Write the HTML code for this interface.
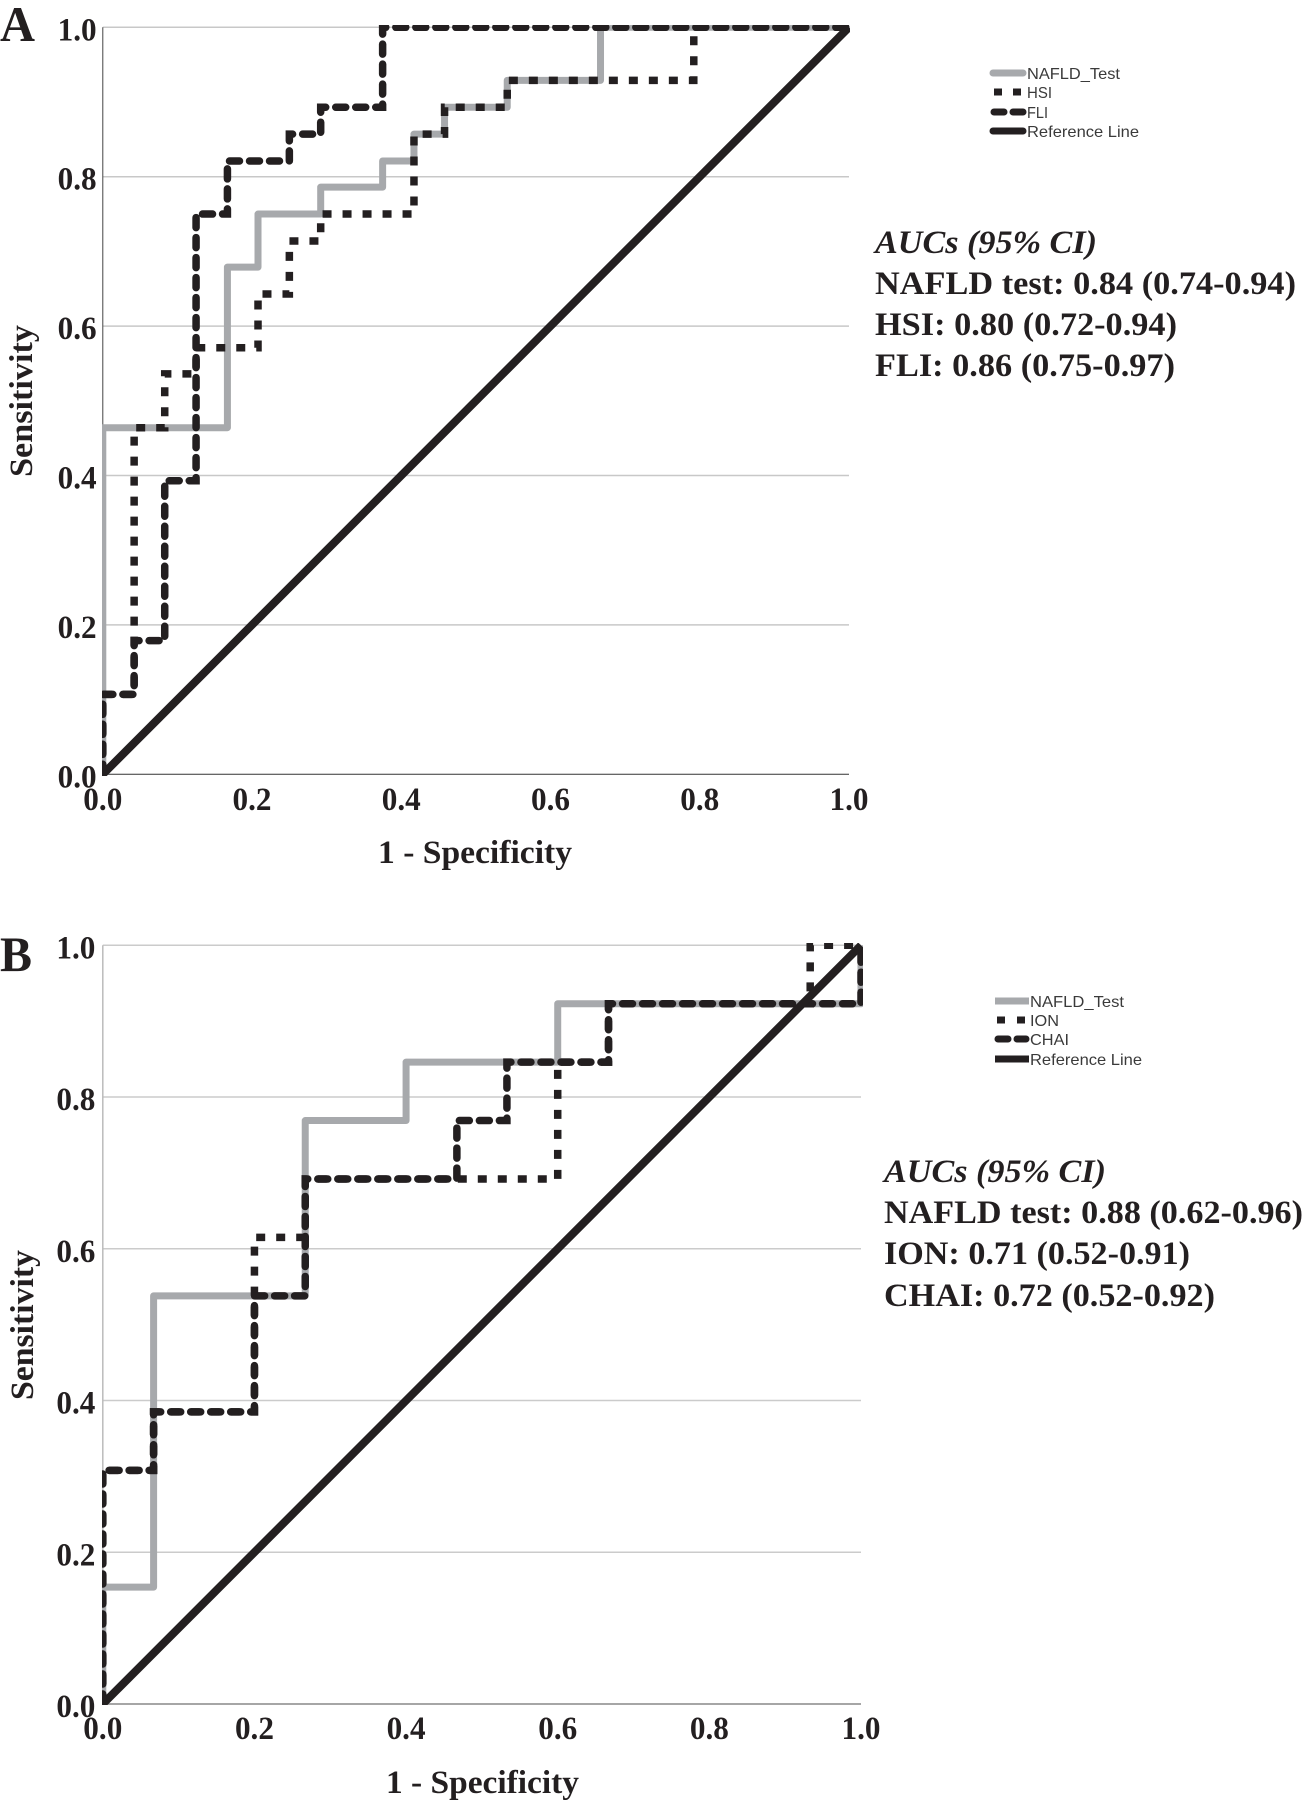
<!DOCTYPE html>
<html lang="en">
<head>
<meta charset="utf-8">
<title>ROC curves for NAFLD test and comparators</title>
<style>
html,body{margin:0;padding:0;background:#fff;}
svg{display:block;}
.tick{font:bold 33px "Liberation Serif",serif;fill:#231f20;}
.title{font:bold 33px "Liberation Serif",serif;fill:#231f20;}
.panel{font:bold 50px "Liberation Serif",serif;fill:#231f20;}
.auc{font:bold 33px "Liberation Serif",serif;fill:#231f20;}
.auch{font:italic bold 33px "Liberation Serif",serif;fill:#231f20;}
.leg{font:16px "Liberation Sans",sans-serif;fill:#3a3a3a;}
</style>
</head>
<body>
<svg id="figure" xmlns="http://www.w3.org/2000/svg" width="1303" height="1802" viewBox="0 0 1303 1802">
  <rect width="1303" height="1802" fill="#fff"/>
  <defs>
    <clipPath id="clipA"><rect x="102" y="25" width="748" height="751"/></clipPath>
    <clipPath id="clipB"><rect x="102" y="943" width="761" height="762"/></clipPath>
  </defs>

  <text class="panel" x="0" y="41" textLength="35" lengthAdjust="spacingAndGlyphs">A</text>
  <text class="panel" x="0" y="971" textLength="32" lengthAdjust="spacingAndGlyphs">B</text>

  <g id="panelA"></g>
  <g id="panelB"></g>

  <text class="title" x="378" y="863" textLength="194" lengthAdjust="spacingAndGlyphs">1 - Specificity</text>
  <text class="title" x="386" y="1793" textLength="193" lengthAdjust="spacingAndGlyphs">1 - Specificity</text>
  <text class="title" transform="translate(32,477) rotate(-90)" textLength="152" lengthAdjust="spacingAndGlyphs">Sensitivity</text>
  <text class="title" transform="translate(33,1400) rotate(-90)" textLength="150" lengthAdjust="spacingAndGlyphs">Sensitivity</text>

  <g>
    <line x1="993" y1="73" x2="1023" y2="73" stroke="#a7a9ac" stroke-width="7" stroke-linecap="round"/>
    <text class="leg" x="1027" y="79" textLength="93" lengthAdjust="spacingAndGlyphs">NAFLD_Test</text>
    <line x1="994" y1="92" x2="1021" y2="92" stroke="#231f20" stroke-width="7" stroke-dasharray="8 11"/>
    <text class="leg" x="1027" y="98" textLength="25" lengthAdjust="spacingAndGlyphs">HSI</text>
    <line x1="994" y1="112" x2="1023" y2="112" stroke="#231f20" stroke-width="7" stroke-linecap="round" stroke-dasharray="10 9"/>
    <text class="leg" x="1027" y="118" textLength="21" lengthAdjust="spacingAndGlyphs">FLI</text>
    <line x1="993" y1="131" x2="1023" y2="131" stroke="#231f20" stroke-width="7" stroke-linecap="round"/>
    <text class="leg" x="1027" y="137" textLength="112" lengthAdjust="spacingAndGlyphs">Reference Line</text>
  </g>

  <g>
    <line x1="995" y1="1001" x2="1029" y2="1001" stroke="#a7a9ac" stroke-width="7"/>
    <text class="leg" x="1030" y="1007" textLength="94" lengthAdjust="spacingAndGlyphs">NAFLD_Test</text>
    <line x1="997" y1="1020" x2="1026" y2="1020" stroke="#231f20" stroke-width="7" stroke-dasharray="8 12"/>
    <text class="leg" x="1030" y="1026" textLength="29" lengthAdjust="spacingAndGlyphs">ION</text>
    <line x1="998" y1="1039" x2="1026" y2="1039" stroke="#231f20" stroke-width="7" stroke-linecap="round" stroke-dasharray="10 9"/>
    <text class="leg" x="1030" y="1045" textLength="39" lengthAdjust="spacingAndGlyphs">CHAI</text>
    <line x1="995" y1="1059" x2="1029" y2="1059" stroke="#231f20" stroke-width="7"/>
    <text class="leg" x="1030" y="1065" textLength="112" lengthAdjust="spacingAndGlyphs">Reference Line</text>
  </g>

  <g>
    <text class="auch" x="875" y="253" textLength="222" lengthAdjust="spacingAndGlyphs">AUCs (95% CI)</text>
    <text class="auc" x="875" y="294" textLength="421" lengthAdjust="spacingAndGlyphs">NAFLD test: 0.84 (0.74-0.94)</text>
    <text class="auc" x="875" y="335" textLength="302" lengthAdjust="spacingAndGlyphs">HSI: 0.80 (0.72-0.94)</text>
    <text class="auc" x="875" y="376" textLength="300" lengthAdjust="spacingAndGlyphs">FLI: 0.86 (0.75-0.97)</text>
  </g>
  <g>
    <text class="auch" x="884" y="1182" textLength="222" lengthAdjust="spacingAndGlyphs">AUCs (95% CI)</text>
    <text class="auc" x="884" y="1223" textLength="419" lengthAdjust="spacingAndGlyphs">NAFLD test: 0.88 (0.62-0.96)</text>
    <text class="auc" x="884" y="1264" textLength="306" lengthAdjust="spacingAndGlyphs">ION: 0.71 (0.52-0.91)</text>
    <text class="auc" x="884" y="1306" textLength="331" lengthAdjust="spacingAndGlyphs">CHAI: 0.72 (0.52-0.92)</text>
  </g>
</svg>

<script>
const tickValues = [0, 0.2, 0.4, 0.6, 0.8, 1.0];
const tickLabels = ['0.0', '0.2', '0.4', '0.6', '0.8', '1.0'];

const nafldAFpr = [0, 0, 0.167, 0.167, 0.208, 0.208, 0.292, 0.292, 0.375, 0.375, 0.417, 0.417, 0.458, 0.458, 0.542, 0.542, 0.667, 0.667, 1];
const nafldATpr = [0, 0.464, 0.464, 0.679, 0.679, 0.75, 0.75, 0.786, 0.786, 0.821, 0.821, 0.857, 0.857, 0.893, 0.893, 0.929, 0.929, 1, 1];

const hsiFpr = [0, 0, 0.042, 0.042, 0.083, 0.083, 0.125, 0.125, 0.208, 0.208, 0.25, 0.25, 0.292, 0.292, 0.417, 0.417, 0.458, 0.458, 0.542, 0.542, 0.792, 0.792, 1];
const hsiTpr = [0, 0.107, 0.107, 0.464, 0.464, 0.536, 0.536, 0.571, 0.571, 0.643, 0.643, 0.714, 0.714, 0.75, 0.75, 0.857, 0.857, 0.893, 0.893, 0.929, 0.929, 1, 1];

const fliFpr = [0, 0, 0.042, 0.042, 0.083, 0.083, 0.125, 0.125, 0.167, 0.167, 0.25, 0.25, 0.292, 0.292, 0.375, 0.375, 1];
const fliTpr = [0, 0.107, 0.107, 0.179, 0.179, 0.393, 0.393, 0.75, 0.75, 0.821, 0.821, 0.857, 0.857, 0.893, 0.893, 1, 1];

const nafldBFpr = [0, 0, 0.067, 0.067, 0.267, 0.267, 0.4, 0.4, 0.6, 0.6, 1, 1];
const nafldBTpr = [0, 0.154, 0.154, 0.538, 0.538, 0.769, 0.769, 0.846, 0.846, 0.923, 0.923, 1];

const ionFpr = [0, 0, 0.067, 0.067, 0.2, 0.2, 0.267, 0.267, 0.6, 0.6, 0.667, 0.667, 0.933, 0.933, 1];
const ionTpr = [0, 0.308, 0.308, 0.385, 0.385, 0.615, 0.615, 0.692, 0.692, 0.846, 0.846, 0.923, 0.923, 1, 1];

const chaiFpr = [0, 0, 0.067, 0.067, 0.2, 0.2, 0.267, 0.267, 0.467, 0.467, 0.533, 0.533, 0.667, 0.667, 1, 1];
const chaiTpr = [0, 0.308, 0.308, 0.385, 0.385, 0.538, 0.538, 0.692, 0.692, 0.769, 0.769, 0.846, 0.846, 0.923, 0.923, 1];

const referenceFpr = [0, 1];
const referenceTpr = [0, 1];

const NS = 'http://www.w3.org/2000/svg';

function makeAxes(left, right, bottom, top) {
  return {
    left: left, right: right, bottom: bottom, top: top,
    x: function (v) { return left + v * (right - left); },
    y: function (v) { return bottom - v * (bottom - top); }
  };
}

function setStyle(el, props) {
  for (const k in props) el.setAttribute(k, props[k]);
}

function drawGrid(g, ax, opt, suffix) {
  tickValues.forEach(function (v, i) {
    if (v === 0) return;
    const line = document.createElementNS(NS, 'line');
    setStyle(line, { x1: ax.left, x2: ax.right, y1: ax.y(v), y2: ax.y(v), stroke: opt.grid, 'stroke-width': 1.5 });
    
    
    g.appendChild(line);
  });
  const yAxis = document.createElementNS(NS, 'line');
  setStyle(yAxis, { x1: ax.left, x2: ax.left, y1: ax.top, y2: ax.bottom, stroke: opt.yAxis, 'stroke-width': opt.yWidth });
  
  
  g.appendChild(yAxis);
  const xAxis = document.createElementNS(NS, 'line');
  setStyle(xAxis, { x1: ax.left, x2: ax.right, y1: ax.bottom, y2: ax.bottom, stroke: opt.xAxis, 'stroke-width': opt.xWidth });
  
  
  g.appendChild(xAxis);
}

function drawTicks(g, ax, opt, suffix) {
  tickValues.forEach(function (v, i) {
    const yt = document.createElementNS(NS, 'text');
    yt.textContent = tickLabels[i];
    setStyle(yt, { 'class': 'tick', x: opt.yLabelX - 39, y: ax.y(v) + 13, textLength: 39, lengthAdjust: 'spacingAndGlyphs' });
    
    
    g.appendChild(yt);
    const xt = document.createElementNS(NS, 'text');
    xt.textContent = tickLabels[i];
    setStyle(xt, { 'class': 'tick', x: ax.x(v) - 19.5, y: opt.xLabelY, textLength: 39, lengthAdjust: 'spacingAndGlyphs' });
    
    
    g.appendChild(xt);
  });
}

function drawCurve(g, ax, xs, ys, style, name) {
  const d = xs.map(function (v, i) {
    return (i ? 'L' : 'M') + ax.x(v).toFixed(2) + ' ' + ax.y(ys[i]).toFixed(2);
  }).join(' ');
  const path = document.createElementNS(NS, 'path');
  setStyle(path, { d: d, fill: 'none' });
  setStyle(path, style);
  
  
  g.appendChild(path);
}

const greyStyle = { stroke: '#a7a9ac', 'stroke-width': 7, 'stroke-linejoin': 'round' };
const dotStyle = { stroke: '#231f20', 'stroke-width': 7.5, 'stroke-dasharray': '9 11' };
const dashStyle = { stroke: '#231f20', 'stroke-width': 7.5, 'stroke-dasharray': '10 10', 'stroke-linecap': 'round' };
const refStyle = { stroke: '#231f20', 'stroke-width': 8 };

function drawPanel(id, clip, ax, opt, suffix, curves) {
  const g = document.getElementById(id);
  drawGrid(g, ax, opt, suffix);
  const plot = document.createElementNS(NS, 'g');
  plot.setAttribute('clip-path', 'url(#' + clip + ')');
  
  
  g.appendChild(plot);
  curves.forEach(function (c) {
    drawCurve(plot, ax, c[0], c[1], c[2], c[3]);
  });
  drawTicks(g, ax, opt, suffix);
}

drawPanel('panelA', 'clipA', makeAxes(102.8, 849, 774.3, 27.3),
  { grid: '#c8c8c8', yAxis: '#444', yWidth: 1, xAxis: '#333', xWidth: 1, yLabelX: 96.6, xLabelY: 810 }, '-a',
  [[nafldAFpr, nafldATpr, greyStyle, 'curve-nafld-test-a'],
   [hsiFpr, hsiTpr, dotStyle, 'curve-hsi'],
   [fliFpr, fliTpr, dashStyle, 'curve-fli'],
   [referenceFpr, referenceTpr, refStyle, 'reference-line-a']]);

drawPanel('panelB', 'clipB', makeAxes(102.8, 861, 1704, 945.3),
  { grid: '#cbcbcb', yAxis: '#bbb', yWidth: 1.5, xAxis: '#888', xWidth: 1.5, yLabelX: 95.4, xLabelY: 1739 }, '-b',
  [[nafldBFpr, nafldBTpr, greyStyle, 'curve-nafld-test-b'],
   [ionFpr, ionTpr, dotStyle, 'curve-ion'],
   [chaiFpr, chaiTpr, dashStyle, 'curve-chai'],
   [referenceFpr, referenceTpr, refStyle, 'reference-line-b']]);
</script>
</body>
</html>
